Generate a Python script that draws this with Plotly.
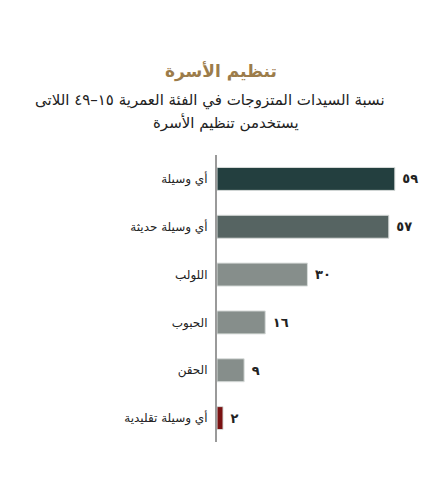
import plotly.graph_objects as go

categories = ["أي وسيلة", "أي وسيلة حديثة", "اللولب", "الحبوب", "الحقن", "أي وسيلة تقليدية"]
values = [59, 57, 30, 16, 9, 2]
value_labels = ["٥٩", "٥٧", "٣٠", "١٦", "٩", "٢"]
bar_colors = ["#233f3f", "#566462", "#868e8b", "#868e8b", "#868e8b", "#7a1212"]

title_text = "تنظيم الأسرة"
subtitle_lines = ["نسبة السيدات المتزوجات في الفئة العمرية ١٥–٤٩ اللاتى", "يستخدمن تنظيم الأسرة"]

W, H = 442, 490
ML, MR, MT, MB = 217, 14, 155, 48
plot_w = W - ML - MR
plot_h = H - MT - MB

def px_x(pix):
    return (pix - ML) / plot_w

def px_y(pix):
    return (H - MB - pix) / plot_h

fig = go.Figure()
fig.add_trace(go.Bar(
    y=categories, x=values, orientation="h",
    marker=dict(color=bar_colors, line=dict(color="#d8dcda", width=1)),
    width=0.48,
    text=[" " + t for t in value_labels], textposition="outside",
    textfont=dict(family="DejaVu Sans", size=13, color="#222222", weight="bold"),
    cliponaxis=False, hoverinfo="skip",
))

ann = [dict(text="<b>" + title_text + "</b>", x=px_x(221), xref="paper", y=px_y(72), yref="paper",
            xanchor="center", yanchor="middle", showarrow=False,
            font=dict(family="DejaVu Sans", size=17, color="#9c7c4a"))]
sub_x = [210, 226]
for i, line in enumerate(subtitle_lines):
    ann.append(dict(text=line, x=px_x(sub_x[i]), xref="paper", y=px_y(100 + 22 * i), yref="paper",
                    xanchor="center", yanchor="middle", showarrow=False,
                    font=dict(family="DejaVu Sans", size=15, color="#222222")))

fig.update_layout(
    width=W, height=H,
    paper_bgcolor="white", plot_bgcolor="white",
    margin=dict(l=ML, r=MR, t=MT, b=MB),
    showlegend=False,
    font=dict(family="DejaVu Sans", color="#222222"),
    xaxis=dict(range=[0, 70], visible=False, showgrid=False, zeroline=False),
    yaxis=dict(autorange="reversed", showgrid=False, zeroline=False,
               showline=True, linecolor="#9a9a9a", linewidth=2,
               ticks="", ticklabelstandoff=5, automargin=False,
               tickfont=dict(family="DejaVu Sans", size=12, color="#222222")),
    annotations=ann,
)

fig.write_html("out.html", config={"displayModeBar": False, "staticPlot": True},
               post_script="document.body.style.margin='0';document.body.style.overflow='hidden';")
